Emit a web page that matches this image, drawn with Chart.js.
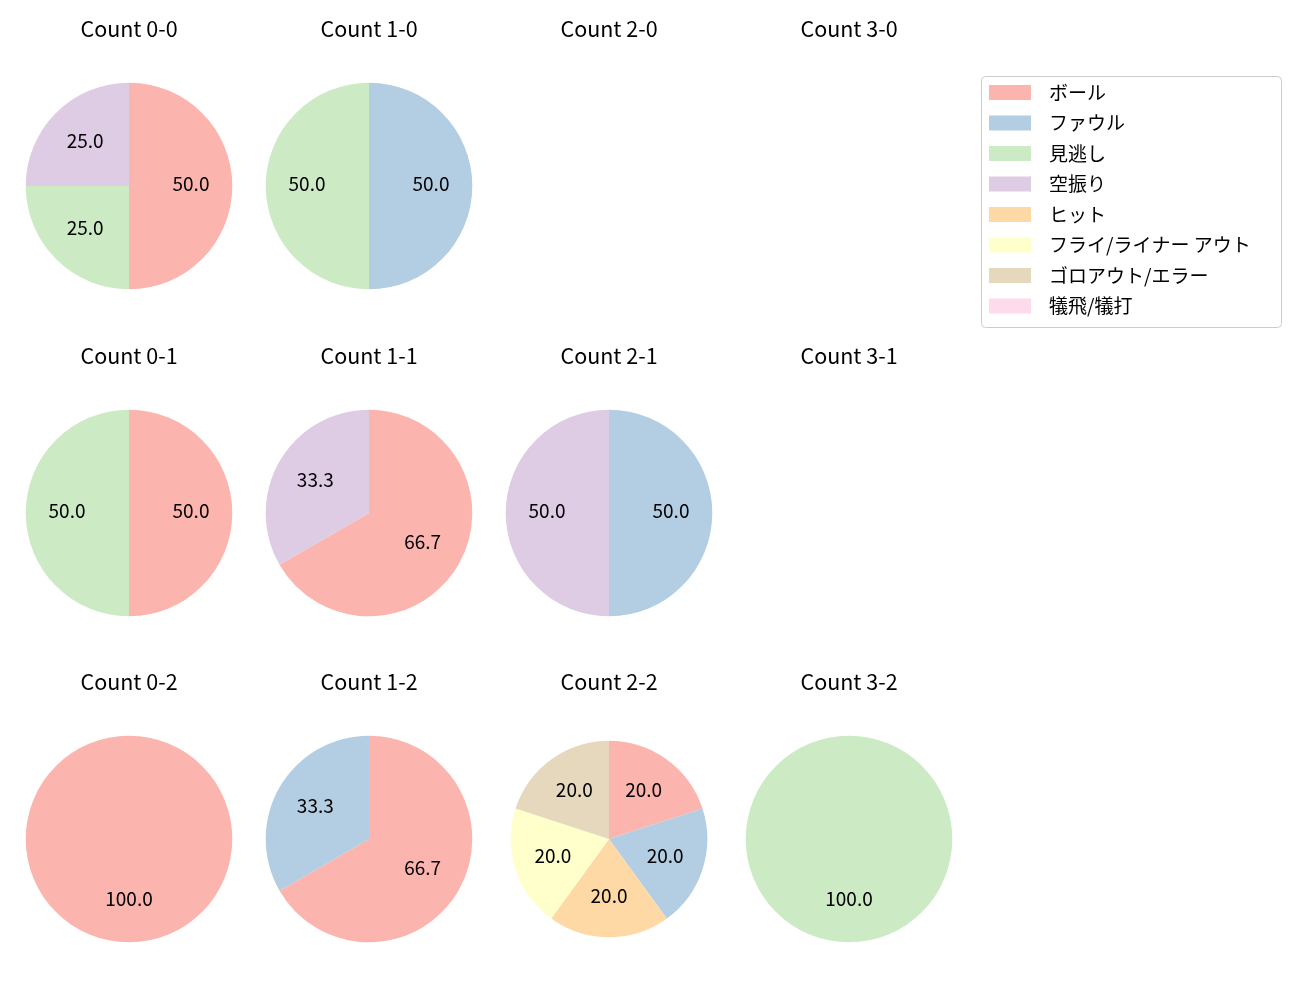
<!DOCTYPE html>
<html>
<head>
<meta charset="utf-8">
<script src="https://cdn.jsdelivr.net/npm/chart.js@4/dist/chart.umd.min.js"></script>
<style>
  html, body { margin: 0; padding: 0; background: #ffffff; }
  body { width: 1300px; height: 1000px; position: relative; overflow: hidden; }
  .panel { position: absolute; }
</style>
</head>
<body>
<script>
// ---- data ----
const categories = ['ボール', 'ファウル', '見逃し', '空振り', 'ヒット', 'フライ/ライナー アウト', 'ゴロアウト/エラー', '犠飛/犠打'];
const colors = ['#fbb4ae', '#b3cde3', '#ccebc5', '#decbe4', '#fed9a6', '#ffffcc', '#e5d8bd', '#fddaec'];
const panelTitles = ['Count 0-0', 'Count 1-0', 'Count 2-0', 'Count 3-0',
                     'Count 0-1', 'Count 1-1', 'Count 2-1', 'Count 3-1',
                     'Count 0-2', 'Count 1-2', 'Count 2-2', 'Count 3-2'];
const count00 = [2, 0, 1, 1, 0, 0, 0, 0];
const count10 = [0, 1, 1, 0, 0, 0, 0, 0];
const count20 = [];
const count30 = [];
const count01 = [1, 0, 1, 0, 0, 0, 0, 0];
const count11 = [2, 0, 0, 1, 0, 0, 0, 0];
const count21 = [0, 1, 0, 1, 0, 0, 0, 0];
const count31 = [];
const count02 = [1, 0, 0, 0, 0, 0, 0, 0];
const count12 = [2, 1, 0, 0, 0, 0, 0, 0];
const count22 = [1, 1, 0, 0, 1, 1, 1, 0];
const count32 = [0, 0, 1, 0, 0, 0, 0, 0];
const panelData = [count00, count10, count20, count30, count01, count11, count21, count31, count02, count12, count22, count32];

// ---- layout (not data) ----
const FONT = "'Noto Sans CJK JP', 'Noto Sans', sans-serif";
const colCenters = [129.3, 369.3, 609, 849];
const rowTops = [0, 326.5, 653];
const titleCenterOffset = 28.5;
const pieCenterOffset = 186;
const R = 103.3;
const panelRadius = [R, R, R, R, R, R, R, R, R, R, 98.3, R];
const PANEL_W = 240, PANEL_H = 310;
const TITLE_SIZE = 21.5, TITLE_LH = 1.2;
const LABEL_SIZE = 19;
const LABEL_DY = -1.8;

const pctLabels = {
  id: 'pctLabels',
  afterDatasetsDraw(chart) {
    const ds = chart.data.datasets[0];
    if (!ds) return;
    const vals = ds.data;
    const total = vals.reduce((a, b) => a + b, 0);
    if (!total) return;
    const meta = chart.getDatasetMeta(0);
    const ctx = chart.ctx;
    ctx.save();
    ctx.font = LABEL_SIZE + 'px ' + FONT;
    ctx.fillStyle = '#000';
    ctx.textAlign = 'center';
    ctx.textBaseline = 'middle';
    meta.data.forEach((arc, i) => {
      if (!vals[i]) return;
      const p = arc.getProps(['x', 'y', 'startAngle', 'endAngle', 'outerRadius'], true);
      const mid = (p.startAngle + p.endAngle) / 2;
      const rr = 0.6 * p.outerRadius;
      const txt = (vals[i] / total * 100).toFixed(1);
      ctx.fillText(txt, p.x + Math.cos(mid) * rr, p.y + Math.sin(mid) * rr + LABEL_DY);
    });
    ctx.restore();
  }
};

panelData.forEach((vals, idx) => {
  const col = idx % 4, row = Math.floor(idx / 4);
  const div = document.createElement('div');
  div.className = 'panel';
  const left = colCenters[col] - PANEL_W / 2;
  const top = rowTops[row];
  div.style.left = left + 'px';
  div.style.top = top + 'px';
  div.style.width = PANEL_W + 'px';
  div.style.height = PANEL_H + 'px';
  const cv = document.createElement('canvas');
  div.appendChild(cv);
  document.body.appendChild(div);

  const titleH = TITLE_SIZE * TITLE_LH;
  const padTop = titleCenterOffset - titleH / 2;
  const areaTop = pieCenterOffset - R;
  const padBottom = areaTop - padTop - titleH;
  const sidePad = (PANEL_W - 2 * R) / 2;
  const bottomPad = PANEL_H - (areaTop + 2 * R);

  new Chart(cv, {
    type: 'pie',
    data: {
      labels: categories,
      datasets: [{
        data: vals,
        backgroundColor: colors,
        borderWidth: 0,
        radius: panelRadius[idx]
      }]
    },
    options: {
      responsive: true,
      maintainAspectRatio: false,
      animation: false,
      events: [],
      layout: { padding: { left: sidePad, right: sidePad, top: 0, bottom: bottomPad } },
      plugins: {
        legend: { display: false },
        tooltip: { enabled: false },
        title: {
          display: true,
          text: panelTitles[idx],
          color: '#000',
          font: { family: FONT, size: TITLE_SIZE, weight: 'normal', lineHeight: TITLE_LH },
          padding: { top: padTop, bottom: padBottom }
        }
      }
    },
    plugins: [pctLabels]
  });
});

// ---- legend ----
const LEG = { left: 981, top: 76, w: 301, h: 252 };
const legendDraw = {
  id: 'legendDraw',
  afterDraw(chart) {
    const ctx = chart.ctx;
    const labels = chart.data.labels;
    const cols = chart.data.datasets[0].backgroundColor;
    ctx.save();
    const x0 = 0.5, y0 = 0.5, w = LEG.w - 1, h = LEG.h - 1, r = 4;
    ctx.beginPath();
    ctx.moveTo(x0 + r, y0);
    ctx.lineTo(x0 + w - r, y0);
    ctx.arcTo(x0 + w, y0, x0 + w, y0 + r, r);
    ctx.lineTo(x0 + w, y0 + h - r);
    ctx.arcTo(x0 + w, y0 + h, x0 + w - r, y0 + h, r);
    ctx.lineTo(x0 + r, y0 + h);
    ctx.arcTo(x0, y0 + h, x0, y0 + h - r, r);
    ctx.lineTo(x0, y0 + r);
    ctx.arcTo(x0, y0, x0 + r, y0, r);
    ctx.closePath();
    ctx.fillStyle = 'rgba(255,255,255,0.8)';
    ctx.fill();
    ctx.strokeStyle = '#cccccc';
    ctx.lineWidth = 1;
    ctx.stroke();
    ctx.font = '19px ' + FONT;
    ctx.textBaseline = 'middle';
    ctx.textAlign = 'left';
    labels.forEach((lab, i) => {
      const cy = 16.5 + i * 30.5;
      ctx.fillStyle = cols[i];
      ctx.fillRect(8, cy - 7.5, 42, 15);
      ctx.fillStyle = '#000';
      ctx.fillText(lab, 68, cy);
    });
    ctx.restore();
  }
};
(function () {
  const div = document.createElement('div');
  div.className = 'panel';
  div.style.left = LEG.left + 'px';
  div.style.top = LEG.top + 'px';
  div.style.width = LEG.w + 'px';
  div.style.height = LEG.h + 'px';
  const cv = document.createElement('canvas');
  div.appendChild(cv);
  document.body.appendChild(div);
  new Chart(cv, {
    type: 'pie',
    data: { labels: categories, datasets: [{ data: [], backgroundColor: colors }] },
    options: {
      responsive: true, maintainAspectRatio: false, animation: false, events: [],
      plugins: { legend: { display: false }, tooltip: { enabled: false } }
    },
    plugins: [legendDraw]
  });
})();
</script>
</body>
</html>
